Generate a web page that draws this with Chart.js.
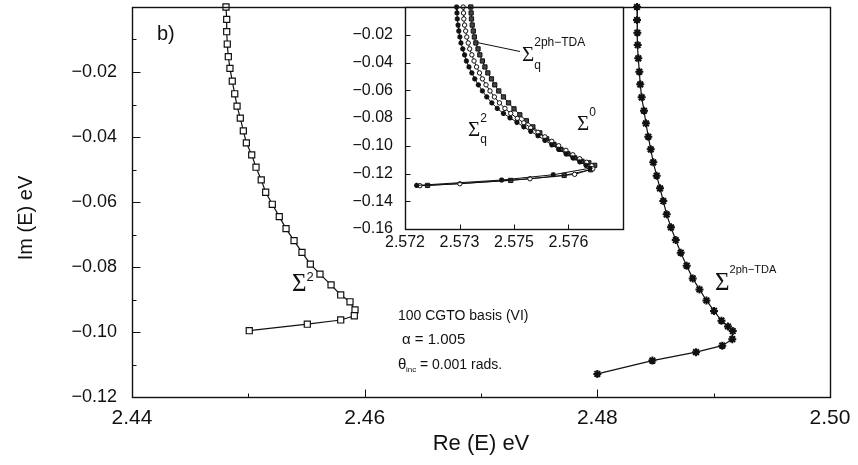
<!DOCTYPE html>
<html>
<head>
<meta charset="utf-8">
<script src="https://cdn.jsdelivr.net/npm/chart.js@4.4.1/dist/chart.umd.min.js"></script>
<style>
  html, body { margin: 0; padding: 0; background: #fff; }
  #wrap { position: relative; width: 858px; height: 465px; }
  #main { position: absolute; left: 0; top: 0; }
  #inset { position: absolute; left: 330px; top: 0; }
</style>
</head>
<body>
<div id="wrap">
  <canvas id="main" width="858" height="465"></canvas>
  <canvas id="inset" width="300" height="252"></canvas>
</div>
<script>
// main panel: Sigma^2 (squares)
var sig2X = [2.44808, 2.44814, 2.44814, 2.44819, 2.44828, 2.44842, 2.44862, 2.44883, 2.44903, 2.44931,
  2.44957, 2.44983, 2.45029, 2.45066, 2.45111, 2.45149, 2.45206, 2.45266, 2.45324, 2.45393,
  2.45461, 2.45533, 2.45616, 2.45711, 2.45794, 2.45874, 2.45917, 2.45911, 2.45794, 2.45507, 2.45008];
var sig2Y = [0, -0.0038, -0.0076, -0.0114, -0.0153, -0.0189, -0.0228, -0.0267, -0.0305, -0.0342,
  -0.0381, -0.0418, -0.0455, -0.0493, -0.0532, -0.0570, -0.0607, -0.0645, -0.0682, -0.0719,
  -0.0755, -0.0791, -0.0822, -0.0855, -0.0886, -0.0907, -0.0932, -0.0950, -0.0963, -0.0976, -0.0996];

// main panel: Sigma^2ph-TDA (stars)
var tdaX = [2.48341, 2.48341, 2.48344, 2.48347, 2.48352, 2.48361, 2.48369, 2.48381, 2.48401, 2.48418,
  2.48438, 2.48459, 2.48481, 2.48510, 2.48539, 2.48567, 2.48596, 2.48633, 2.48674, 2.48717,
  2.48768, 2.48820, 2.48878, 2.48938, 2.49003, 2.49067, 2.49123, 2.49164, 2.49160, 2.49074,
  2.48848, 2.48473, 2.48000];
var tdaY = [0, -0.0040, -0.0079, -0.0117, -0.0158, -0.0199, -0.0238, -0.0278, -0.0319, -0.0358,
  -0.0399, -0.0438, -0.0478, -0.0519, -0.0558, -0.0597, -0.0638, -0.0678, -0.0717, -0.0756,
  -0.0796, -0.0835, -0.0869, -0.0903, -0.0935, -0.0965, -0.0983, -0.0997, -0.1022, -0.1042,
  -0.1062, -0.1088, -0.1129];

// inset: Sigma_q^2ph-TDA (squares, right curve)
var qTdaX = [2.57381, 2.57382, 2.57383, 2.57385, 2.57388, 2.57391, 2.57395, 2.57401, 2.57406, 2.57413,
  2.57420, 2.57428, 2.57438, 2.57447, 2.57458, 2.57471, 2.57485, 2.57500, 2.57516, 2.57534,
  2.57552, 2.57571, 2.57590, 2.57610, 2.57629, 2.57648, 2.57667, 2.57687, 2.57706, 2.57722,
  2.57711, 2.57638, 2.57491, 2.57262];
var qTdaY = [0, -0.0043, -0.0086, -0.0130, -0.0173, -0.0216, -0.0259, -0.0302, -0.0345, -0.0389,
  -0.0432, -0.0475, -0.0518, -0.0561, -0.0605, -0.0648, -0.0691, -0.0734, -0.0777, -0.0820,
  -0.0864, -0.0907, -0.0950, -0.0990, -0.1026, -0.1058, -0.1087, -0.1112, -0.1123, -0.1141,
  -0.1173, -0.1214, -0.1250, -0.1286];

// inset: Sigma_q^2 (stars, left curve)
var qSig2X = [2.57342, 2.57343, 2.57344, 2.57346, 2.57348, 2.57351, 2.57354, 2.57359, 2.57364, 2.57369,
  2.57376, 2.57384, 2.57392, 2.57402, 2.57413, 2.57425, 2.57439, 2.57454, 2.57471, 2.57489,
  2.57508, 2.57527, 2.57546, 2.57566, 2.57585, 2.57604, 2.57623, 2.57643, 2.57662, 2.57681,
  2.57698, 2.57709, 2.57608, 2.57466, 2.57232];
var qSig2Y = [0, -0.0043, -0.0086, -0.0130, -0.0173, -0.0216, -0.0259, -0.0302, -0.0345, -0.0389,
  -0.0432, -0.0475, -0.0518, -0.0561, -0.0605, -0.0648, -0.0691, -0.0731, -0.0767, -0.0799,
  -0.0831, -0.0864, -0.0896, -0.0928, -0.0961, -0.0993, -0.1026, -0.1058, -0.1087, -0.1116,
  -0.1141, -0.1162, -0.1209, -0.1247, -0.1286];

// inset: Sigma^0 (open circles, middle curve)
var sig0X = [2.57360, 2.57361, 2.57362, 2.57364, 2.57367, 2.57370, 2.57374, 2.57378, 2.57384, 2.57390,
  2.57397, 2.57405, 2.57413, 2.57423, 2.57434, 2.57446, 2.57460, 2.57475, 2.57491, 2.57509,
  2.57527, 2.57546, 2.57566, 2.57585, 2.57604, 2.57623, 2.57643, 2.57662, 2.57681, 2.57700,
  2.57714, 2.57717, 2.57667, 2.57544, 2.57351, 2.57241];
var sig0Y = [0, -0.0043, -0.0086, -0.0130, -0.0173, -0.0216, -0.0259, -0.0302, -0.0345, -0.0389,
  -0.0432, -0.0475, -0.0518, -0.0561, -0.0605, -0.0648, -0.0691, -0.0731, -0.0767, -0.0803,
  -0.0835, -0.0871, -0.0903, -0.0936, -0.0968, -0.1000, -0.1033, -0.1065, -0.1094, -0.1119,
  -0.1144, -0.1166, -0.1206, -0.1238, -0.1274, -0.1288];

// tick values and labels
var mainXTicks = [2.44, 2.46, 2.48, 2.50];
var mainXMinor = [2.45, 2.47, 2.49];
var mainYTicks = [-0.12, -0.10, -0.08, -0.06, -0.04, -0.02];
var mainYMinor = [-0.11, -0.09, -0.07, -0.05, -0.03, -0.01];
var insetXTicks = [2.572, 2.5735, 2.575, 2.5765];
var insetXLabels = ["2.572", "2.573", "2.575", "2.576"];
var insetYTicks = [-0.16, -0.14, -0.12, -0.10, -0.08, -0.06, -0.04, -0.02];

var INK = "#111";
var SANS = "'Liberation Sans', Arial, sans-serif";
var SERIF = "'Liberation Serif', 'Times New Roman', serif";

function pts(xs, ys) {
  return xs.map(function (x, i) { return { x: x, y: ys[i] }; });
}
function minus(v, d) {
  return (v < 0 ? "\u2212" : "") + Math.abs(v).toFixed(d);
}

// white plot background, full frame and ticks pointing inward
var framePlugin = {
  id: "frame",
  beforeDatasetsDraw: function (chart, args, o) {
    var a = chart.chartArea, ctx = chart.ctx;
    if (o.fill) {
      ctx.save();
      ctx.fillStyle = o.fill;
      ctx.fillRect(a.left, a.top, a.right - a.left, a.bottom - a.top);
      ctx.restore();
    }
  },
  afterDraw: function (chart, args, o) {
    var a = chart.chartArea, ctx = chart.ctx;
    var sx = chart.scales.x, sy = chart.scales.y;
    var L = Math.round(a.left) + 0.5, R = Math.round(a.right) + 0.5;
    var T = Math.round(a.top) + 0.5, B = Math.round(a.bottom) + 0.5;
    ctx.save();
    ctx.strokeStyle = INK;
    ctx.lineWidth = 1.4;
    ctx.strokeRect(L, T, R - L, B - T);
    ctx.lineWidth = 1;
    ctx.beginPath();
    function xt(list, len) {
      (list || []).forEach(function (v) {
        var p = Math.round(sx.getPixelForValue(v)) + 0.5;
        ctx.moveTo(p, B); ctx.lineTo(p, B - len);
      });
    }
    function yt(list, len) {
      (list || []).forEach(function (v) {
        var p = Math.round(sy.getPixelForValue(v)) + 0.5;
        ctx.moveTo(L, p); ctx.lineTo(L + len, p);
      });
    }
    xt(o.xMajor, o.major); xt(o.xMinor, o.minor);
    yt(o.yMajor, o.major); yt(o.yMinor, o.minor);
    ctx.stroke();
    ctx.restore();
  }
};

// Sigma with optional superscript / subscript placed right after the glyph
function sigma(ctx, x, y, size, sup, supDy, sub, subDy, small) {
  ctx.font = size + "px " + SERIF;
  ctx.fillText("\u03A3", x, y);
  var w = ctx.measureText("\u03A3").width;
  ctx.font = small + "px " + SANS;
  if (sup) ctx.fillText(sup, x + w, y - supDy);
  if (sub) ctx.fillText(sub, x + w, y + subDy);
}

var mainNotes = {
  id: "mainNotes",
  afterDraw: function (chart) {
    var ctx = chart.ctx;
    ctx.save();
    ctx.fillStyle = INK;
    ctx.textBaseline = "alphabetic";
    ctx.font = "20px " + SANS;
    ctx.fillText("b)", 157, 40);
    sigma(ctx, 292, 291, 25, "2", 10, null, 0, 13);
    sigma(ctx, 715, 290, 25, "2ph\u2212TDA", 17, null, 0, 11);
    ctx.font = "14px " + SANS;
    ctx.fillText("100 CGTO basis (VI)", 398, 320);
    ctx.font = "15px " + SANS;
    ctx.fillText("\u03B1 = 1.005", 402, 344);
    ctx.fillText("\u03B8", 398, 369);
    ctx.font = "8px " + SANS;
    ctx.fillText("inc", 406, 372);
    ctx.font = "14px " + SANS;
    ctx.fillText("= 0.001 rads.", 420, 369);
    // y axis title
    ctx.translate(26, 218);
    ctx.rotate(-Math.PI / 2);
    ctx.textAlign = "center";
    ctx.textBaseline = "middle";
    ctx.font = "20px " + SANS;
    ctx.fillText("Im (E) eV", 0, 0);
    ctx.restore();
  }
};

var insetNotes = {
  id: "insetNotes",
  afterDraw: function (chart) {
    var ctx = chart.ctx;
    ctx.save();
    ctx.fillStyle = INK;
    ctx.strokeStyle = INK;
    ctx.lineWidth = 1;
    ctx.beginPath();
    ctx.moveTo(147, 42.5);
    ctx.lineTo(190, 51.5);
    ctx.stroke();
    sigma(ctx, 192, 61, 21, "2ph\u2212TDA", 15, "q", 8, 12);
    sigma(ctx, 138, 136, 21, "2", 14, "q", 7, 12);
    sigma(ctx, 247, 130, 21, "0", 14, null, 0, 12);
    ctx.restore();
  }
};

Chart.defaults.font.family = SANS;
Chart.defaults.color = INK;

new Chart(document.getElementById("main"), {
  type: "scatter",
  data: {
    datasets: [
      {
        label: "\u03A3\u00B2",
        data: pts(sig2X, sig2Y),
        showLine: true,
        borderColor: INK,
        borderWidth: 1.2,
        pointStyle: "rect",
        pointRadius: 4.3,
        pointBorderWidth: 1.2,
        pointBorderColor: INK,
        pointBackgroundColor: "#fff",
        clip: 6
      },
      {
        label: "\u03A3 2ph-TDA",
        data: pts(tdaX, tdaY),
        showLine: true,
        borderColor: INK,
        borderWidth: 1.2,
        pointStyle: "star",
        pointRadius: 4,
        pointBorderWidth: 2,
        pointBorderColor: INK,
        pointBackgroundColor: INK,
        clip: 6
      }
    ]
  },
  options: {
    responsive: false,
    animation: false,
    events: [],
    layout: { padding: { top: 7, right: 28, left: 0, bottom: 0 } },
    plugins: {
      legend: { display: false },
      tooltip: { enabled: false },
      frame: { xMajor: [2.46, 2.48], xMinor: mainXMinor, yMajor: mainYTicks, yMinor: mainYMinor, major: 8, minor: 4 }
    },
    scales: {
      x: {
        type: "linear",
        min: 2.44,
        max: 2.50,
        grid: { display: false, drawTicks: false },
        border: { display: false },
        afterBuildTicks: function (s) { s.ticks = mainXTicks.map(function (v) { return { value: v }; }); },
        afterFit: function (s) { s.height = 68; s.paddingLeft = 0; s.paddingRight = 0; },
        ticks: {
          padding: 9,
          color: INK,
          autoSkip: false,
          maxRotation: 0,
          font: { size: 21 },
          callback: function (v) { return v.toFixed(2); }
        },
        title: { display: true, text: "Re (E) eV", color: INK, font: { size: 22 }, padding: { top: 0, bottom: 8 } }
      },
      y: {
        type: "linear",
        min: -0.12,
        max: 0,
        grid: { display: false, drawTicks: false },
        border: { display: false },
        afterBuildTicks: function (s) { s.ticks = mainYTicks.map(function (v) { return { value: v }; }); },
        afterFit: function (s) { s.width = 132; s.paddingTop = 0; s.paddingBottom = 0; },
        ticks: {
          padding: 15,
          color: INK,
          autoSkip: false,
          font: { size: 18 },
          callback: function (v) { return minus(v, 2); }
        }
      }
    }
  },
  plugins: [framePlugin, mainNotes]
});

new Chart(document.getElementById("inset"), {
  type: "scatter",
  data: {
    datasets: [
      {
        label: "\u03A3q\u00B2",
        data: pts(qSig2X, qSig2Y),
        showLine: true,
        borderColor: INK,
        borderWidth: 1,
        pointStyle: "star",
        pointRadius: 2.6,
        pointBorderWidth: 1.6,
        pointBorderColor: INK,
        pointBackgroundColor: INK,
        clip: 4
      },
      {
        label: "\u03A3\u2070",
        data: pts(sig0X, sig0Y),
        showLine: true,
        borderColor: INK,
        borderWidth: 1,
        pointStyle: "circle",
        pointRadius: 2.2,
        pointBorderWidth: 1,
        pointBorderColor: INK,
        pointBackgroundColor: "#fff",
        clip: 4
      },
      {
        label: "\u03A3q 2ph-TDA",
        data: pts(qTdaX, qTdaY),
        showLine: true,
        borderColor: INK,
        borderWidth: 1,
        pointStyle: "rect",
        pointRadius: 3,
        pointBorderWidth: 1,
        pointBorderColor: INK,
        pointBackgroundColor: "#444",
        clip: 4
      }
    ]
  },
  options: {
    responsive: false,
    animation: false,
    events: [],
    layout: { padding: { top: 7, right: 7, left: 0, bottom: 0 } },
    plugins: {
      legend: { display: false },
      tooltip: { enabled: false },
      frame: { fill: "#fff", xMajor: insetXTicks.slice(1), yMajor: insetYTicks.slice(1), major: 5, minor: 0 }
    },
    scales: {
      x: {
        type: "linear",
        min: 2.572,
        max: 2.578,
        grid: { display: false, drawTicks: false },
        border: { display: false },
        afterBuildTicks: function (s) { s.ticks = insetXTicks.map(function (v) { return { value: v }; }); },
        afterFit: function (s) { s.height = 23; s.paddingLeft = 0; s.paddingRight = 0; },
        ticks: {
          padding: 4,
          color: INK,
          autoSkip: false,
          maxRotation: 0,
          font: { size: 16 },
          callback: function (v, i) { return insetXLabels[i]; }
        }
      },
      y: {
        type: "linear",
        min: -0.16,
        max: 0,
        grid: { display: false, drawTicks: false },
        border: { display: false },
        afterBuildTicks: function (s) { s.ticks = insetYTicks.map(function (v) { return { value: v }; }); },
        afterFit: function (s) { s.width = 75; s.paddingTop = 0; s.paddingBottom = 0; },
        ticks: {
          padding: 12,
          color: INK,
          autoSkip: false,
          font: { size: 16 },
          callback: function (v) { return minus(v, 2); }
        }
      }
    }
  },
  plugins: [framePlugin, insetNotes]
});
</script>
</body>
</html>
